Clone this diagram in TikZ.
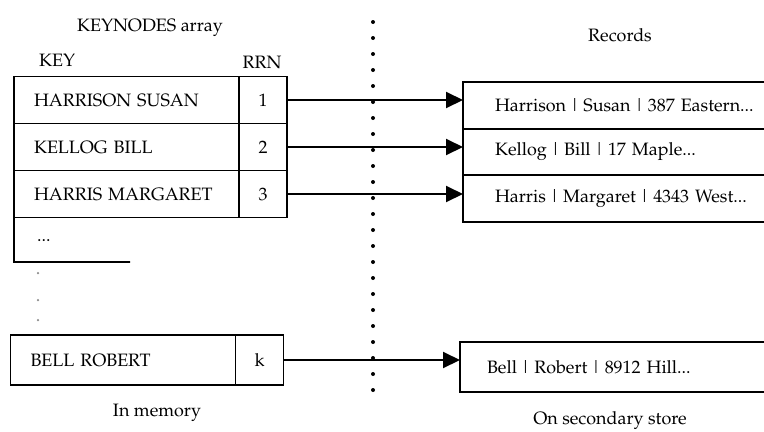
\documentclass[tikz,border=0pt]{standalone}
\usepackage[T1]{fontenc}
\usepackage{mathpazo}
\usepackage{tikz}
\usetikzlibrary{arrows.meta,positioning}
\newcommand{\diagfont}{\fontsize{10.2}{12.2}\selectfont}
\newcommand{\fldsep}{\hspace{0.18em}\textbar\hspace{0.18em}}

\begin{document}
\begin{tikzpicture}[
  keycell/.style={draw,line width=1.1pt,outer sep=0pt,minimum height=0.94cm,
                  text width=3.7cm,inner xsep=0.4cm,inner ysep=0pt,
                  align=left,font=\diagfont},
  rrncell/.style={draw,line width=1.1pt,outer sep=0pt,minimum width=0.96cm,
                  minimum height=0.94cm,inner sep=0pt,font=\diagfont},
  reccell/.style={draw,line width=1.1pt,outer sep=0pt,minimum height=0.93cm,
                  text width=5.72cm,inner xsep=0.64cm,inner ysep=0pt,
                  align=left,font=\diagfont},
  lbl/.style={font=\diagfont,inner sep=1pt},
  ptr/.style={-{Triangle[length=0.34cm,width=0.32cm]},line width=1.1pt},
]
\path[use as bounding box,clip] (0,0) rectangle (15.28,8.62);

\node[lbl] (arrtitle) at (3.0,8.06) {KEYNODES array};
\node[lbl] (keyhead) at (1.14,7.42) {KEY};
\node[lbl] (rrnhead) at (5.24,7.38) {RRN};
\node[lbl] (rectitle) at (12.4,7.92) {Records};

\node[keycell] (key1) at (2.53,6.62) {HARRISON SUSAN};
\node[keycell] (key2) at (2.53,5.68) {KELLOG BILL};
\node[keycell] (key3) at (2.53,4.74) {HARRIS MARGARET};
\node[rrncell,right=0pt of key1] (rrn1) {1};
\node[rrncell,right=0pt of key2] (rrn2) {2};
\node[rrncell,right=0pt of key3] (rrn3) {3};
\node[lbl,anchor=west] (more) at (0.7,3.82) {...};
\coordinate (opencorner) at (0.28,3.38);
\draw[line width=1.1pt] (key3.south west) -- (opencorner) -- ++(2.32,0);
\foreach \y in {3.16,2.62,2.22}
  \fill[black!45] (0.76,\y) circle (0.025);

\node[keycell,minimum height=1cm] (key4) at (2.46,1.42) {BELL ROBERT};
\node[rrncell,minimum height=1cm,right=0pt of key4] (rrn4) {k};
\node[lbl] (memlbl) at (3.14,0.36) {In memory};

\node[reccell] (rec1) at (12.76,6.51) {Harrison\fldsep Susan\fldsep 387 Eastern...};
\node[reccell,below=0pt of rec1] (rec2) {Kellog\fldsep Bill\fldsep 17 Maple...};
\node[reccell,below=0pt of rec2] (rec3) {Harris\fldsep Margaret\fldsep 4343 West...};
\node[reccell,minimum height=1cm,inner xsep=0.54cm,text width=5.92cm] (rec4) at (12.7,1.28) {Bell\fldsep Robert\fldsep 8912 Hill...};
\node[lbl] (storelbl) at (12.2,0.2) {On secondary store};

\coordinate (divtop) at (7.46,8.18);
\coordinate (divbot) at (7.46,0.66);
\draw[line width=0.08cm,line cap=round,dash pattern=on 0pt off 0.32cm] (divtop) -- (divbot);

\draw[ptr] (rrn1.east) -- (rrn1.east -| rec1.west);
\draw[ptr] (rrn2.east) -- (rrn2.east -| rec2.west);
\draw[ptr] (rrn3.east) -- (rrn3.east -| rec3.west);
\draw[ptr] (rrn4.east) -- (rrn4.east -| rec4.west);
\end{tikzpicture}
\end{document}
